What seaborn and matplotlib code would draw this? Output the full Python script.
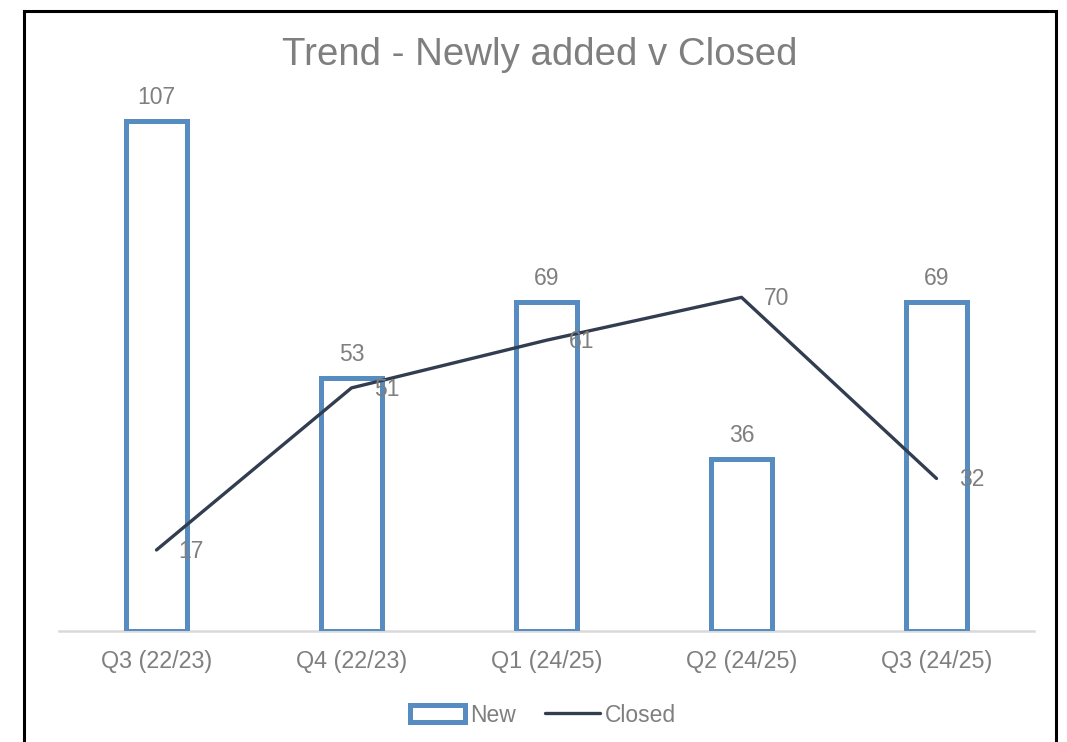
import matplotlib
matplotlib.use("Agg")
import matplotlib.pyplot as plt
from matplotlib.patches import Patch, Rectangle
from matplotlib.lines import Line2D
import seaborn as sns
import numpy as np

quarters = ["Q3 (22/23)", "Q4 (22/23)", "Q1 (24/25)", "Q2 (24/25)", "Q3 (24/25)"]
new_items = [107, 53, 69, 36, 69]
closed_items = [17, 51, 61, 70, 32]

title = "Trend - Newly added v Closed"
bar_edge = "#568CC0"
line_col = "#323E50"
text_col = "#7F7F7F"

sns.set_theme(style="white")
plt.rcParams["font.family"] = ["Liberation Sans", "DejaVu Sans"]

W, H = 1067, 742
fig = plt.figure(figsize=(W / 100, H / 100), dpi=100)
ax = fig.add_axes([59 / W, 1 - 631 / H, (1034 - 59) / W, (631 - 59) / H])

sns.barplot(x=quarters, y=new_items, ax=ax, color="white", edgecolor=bar_edge,
            linewidth=3.6, width=0.31, saturation=1, zorder=2)
pos = np.arange(len(quarters))
sns.lineplot(x=pos, y=closed_items, ax=ax, color=line_col, linewidth=2.4, zorder=3)

ax.set_xlim(-0.5, len(quarters) - 0.5)
ax.set_ylim(0, 120)
ax.set_yticks([])
ax.set_xlabel("")
ax.set_ylabel("")
for s in ["top", "left", "right"]:
    ax.spines[s].set_visible(False)
ax.spines["bottom"].set_color("#D9D9D9")
ax.spines["bottom"].set_linewidth(1.8)
ax.spines["bottom"].set_zorder(1)
ax.tick_params(axis="x", length=0, pad=14, labelsize=16.8, labelcolor=text_col)

for i, v in enumerate(new_items):
    ax.annotate(f"{v}", (i, v), xytext=(0, 17), textcoords="offset points",
                ha="center", va="center", fontsize=16.5, color=text_col)
for i, v in enumerate(closed_items):
    ax.annotate(f"{v}", (i, v), xytext=(16, -1), textcoords="offset points",
                ha="left", va="center", fontsize=16.5, color=text_col, zorder=4)

fig.text(539.5 / W, 1 - 55 / H, title, ha="center", va="center",
         fontsize=27.6, color=text_col)

handles = [
    Patch(facecolor="white", edgecolor=bar_edge, linewidth=3.6),
    Line2D([0], [0], color=line_col, linewidth=2.4),
]
fig.legend(handles, ["New", "Closed"], loc="center", bbox_to_anchor=(543 / W, 1 - 715 / H),
           ncol=2, frameon=False, fontsize=16.5, labelcolor=text_col,
           handlelength=2.4, handleheight=0.75, handletextpad=0.2, columnspacing=1.3)

# outer frame around the chart
fig.patches.append(Rectangle((23.5 / W, -0.05), (1055.5 - 23.5) / W, 1.05 - 10.5 / H,
                             transform=fig.transFigure, fill=False, edgecolor="black",
                             linewidth=2.2))

fig.savefig("out.png", dpi=100, facecolor="white")
